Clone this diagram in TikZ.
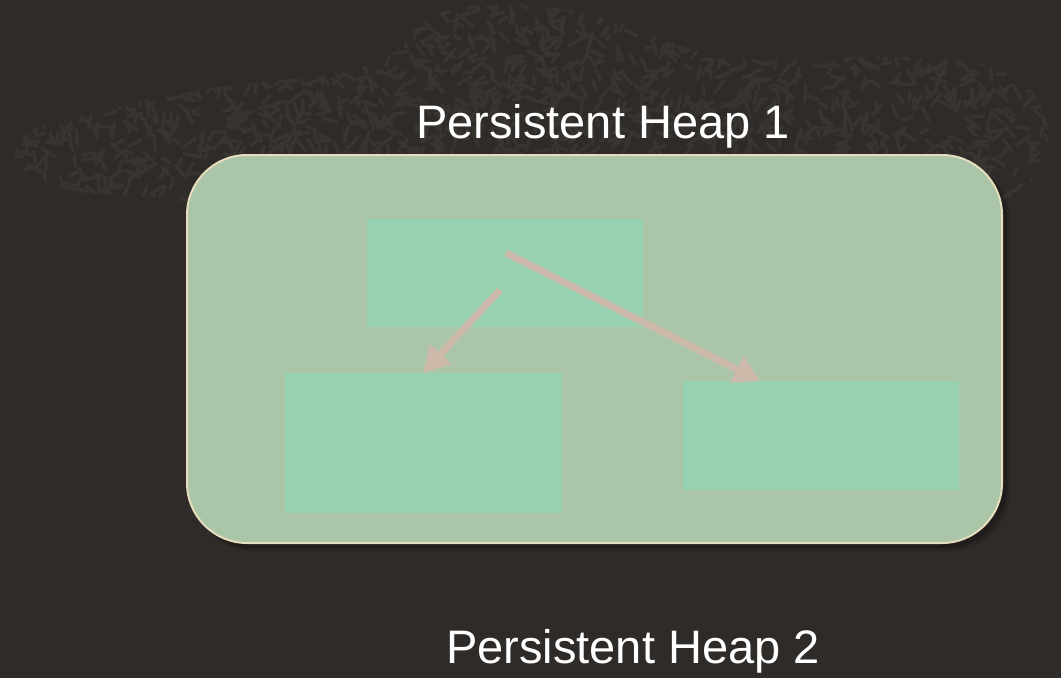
\documentclass[tikz,border=0pt]{standalone}
\usepackage{fontspec}
\setmainfont{Liberation Sans}
\usetikzlibrary{arrows.meta}
\definecolor{bgc}{HTML}{2F2B28}
\definecolor{texc}{HTML}{383430}
\definecolor{heapfill}{HTML}{ABC5A8}
\definecolor{heapedge}{HTML}{E6DCBE}
\definecolor{objfill}{HTML}{98D1AF}
\definecolor{ptrc}{HTML}{CCB9AA}
\tikzset{
  heapbox/.style={draw=heapedge, line width=2pt, fill=heapfill, rounded corners=60pt},
  objbox/.style={fill=objfill, draw=none, inner sep=0pt, anchor=north west},
  ptr/.style={draw=ptrc, line width=7pt, -{Triangle[length=26pt,width=28pt]}},
  heaplabel/.style={text=white, font=\fontsize{47}{56}\selectfont, anchor=base, inner sep=0pt},
}
\begin{document}
\begin{tikzpicture}[x=1pt,y=-1pt]
\fill[bgc] (0,0) rectangle (1061,678);
\useasboundingbox (0,0) rectangle (1061,678);
% textured band
\begin{scope}
\clip plot[smooth cycle, tension=0.6] coordinates {(15,150) (40,126) (100,112) (170,95) (260,82) (330,75) (390,55) (420,25) (450,8) (520,5) (580,12) (640,30) (700,52) (760,60) (850,57) (940,58) (1000,70) (1035,95) (1048,130) (1040,165) (1015,195) (950,205) (600,205) (250,205) (160,198) (80,192) (30,175)};
\pgfmathsetseed{7}
\foreach \i in {1,...,1900}{
  \pgfmathsetmacro\xx{10+1045*rnd}
  \pgfmathsetmacro\yy{210*rnd}
  \pgfmathsetmacro\ang{180*rnd}
  \pgfmathsetmacro\len{8+8*rnd}
  \draw[texc, line width=3.5pt, line cap=round] (\xx,\yy) -- ++(\ang:\len);
}
\end{scope}
% shadow
\fill[black, opacity=0.2, rounded corners=60pt] (191,159) rectangle (1007,548);
\fill[black, opacity=0.12, rounded corners=60pt] (193,161) rectangle (1010,551);
% heap 1
\node[heaplabel] (lab1) at (603,138) {Persistent Heap 1};
\path[heapbox] (187,155) rectangle (1002,543);
\node[objbox, minimum width=276pt, minimum height=108pt] (top) at (367,219) {};
\node[objbox, minimum width=277pt, minimum height=140pt] (left) at (285,373) {};
\node[objbox, minimum width=276pt, minimum height=109pt] (right) at (683,381) {};
\coordinate (s1) at (500,290);
\coordinate (e1) at (423,373);
\coordinate (s2) at (506,253);
\coordinate (e2) at (760,381);
\draw[ptr] (s1) -- (e1);
\draw[ptr] (s2) -- (e2);
% heap 2
\node[heaplabel] (lab2) at (633,663) {Persistent Heap 2};
\end{tikzpicture}
\end{document}
